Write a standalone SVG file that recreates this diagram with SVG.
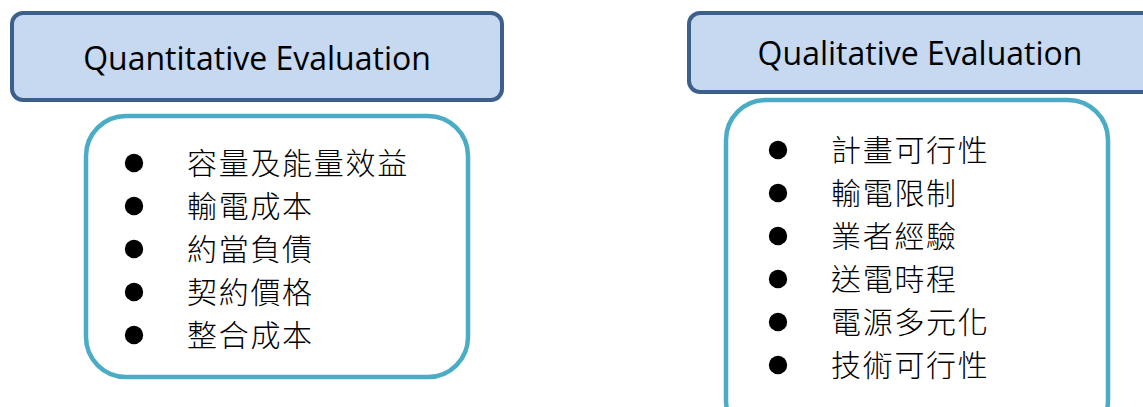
<svg xmlns="http://www.w3.org/2000/svg" width="1143" height="407" viewBox="0 0 1143 407">
  <style>
    .header { fill: #c6d9f1; stroke: #3d5f8c; stroke-width: 4; }
    .body { fill: #ffffff; stroke: #4bacc6; stroke-width: 4.5; }
    .title { font-family: "Open Sans", "Noto Sans", sans-serif; font-size: 32px; fill: #000000; text-anchor: middle; }
    .item { font-family: "Noto Sans CJK TC", "Noto Sans CJK SC", sans-serif; font-size: 30px; font-weight: 300; letter-spacing: 1.7px; fill: #000000; }
    .dot { fill: #000000; }
  </style>
  <rect width="1143" height="407" fill="#ffffff"/>

  <!-- Quantitative header -->
  <g id="quantitative-header">
    <rect class="header" x="12" y="13" width="490" height="87" rx="11"/>
    <text class="title" x="257" y="70">Quantitative Evaluation</text>
  </g>

  <!-- Quantitative criteria list -->
  <g id="quantitative-list">
    <rect class="body" x="86" y="116" width="382" height="261" rx="40"/>
    <circle class="dot" cx="134" cy="163" r="9.2"/>
    <circle class="dot" cx="134" cy="206" r="9.2"/>
    <circle class="dot" cx="134" cy="249" r="9.2"/>
    <circle class="dot" cx="134" cy="292" r="9.2"/>
    <circle class="dot" cx="134" cy="335" r="9.2"/>
    <text class="item" x="187" y="174">容量及能量效益</text>
    <text class="item" x="187" y="217">輸電成本</text>
    <text class="item" x="187" y="260">約當負債</text>
    <text class="item" x="187" y="303">契約價格</text>
    <text class="item" x="187" y="346">整合成本</text>
  </g>

  <!-- Qualitative header -->
  <g id="qualitative-header">
    <rect class="header" x="689" y="13" width="480" height="79" rx="11"/>
    <text class="title" x="920" y="65">Qualitative Evaluation</text>
  </g>

  <!-- Qualitative criteria list -->
  <g id="qualitative-list">
    <rect class="body" x="726" y="100" width="382" height="340" rx="40"/>
    <circle class="dot" cx="778" cy="150" r="9.2"/>
    <circle class="dot" cx="778" cy="193" r="9.2"/>
    <circle class="dot" cx="778" cy="236" r="9.2"/>
    <circle class="dot" cx="778" cy="279" r="9.2"/>
    <circle class="dot" cx="778" cy="322" r="9.2"/>
    <circle class="dot" cx="778" cy="365" r="9.2"/>
    <text class="item" x="831" y="161">計畫可行性</text>
    <text class="item" x="831" y="204">輸電限制</text>
    <text class="item" x="831" y="247">業者經驗</text>
    <text class="item" x="831" y="290">送電時程</text>
    <text class="item" x="831" y="333">電源多元化</text>
    <text class="item" x="831" y="376">技術可行性</text>
  </g>
</svg>
